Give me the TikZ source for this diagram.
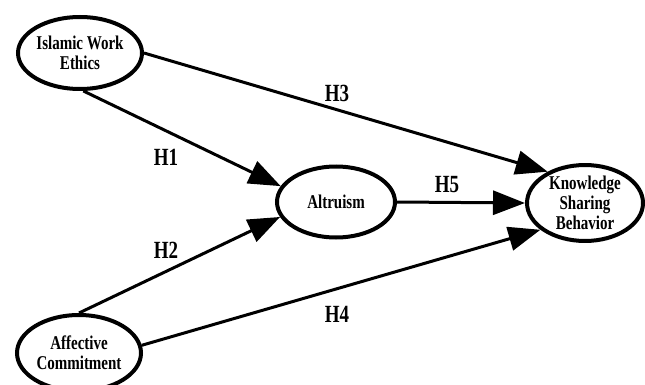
\documentclass[tikz,border=0pt]{standalone}
\usepackage{fontspec}
\usepackage{graphicx}
\setmainfont{Liberation Serif}
\usetikzlibrary{shapes.geometric,arrows.meta}
\newcommand{\vtxt}[1]{\scalebox{1}[1.3]{#1}}
\tikzset{
  var/.style={ellipse, draw, line width=4pt, inner sep=0pt, align=center,
    font=\fontsize{15}{20}\selectfont\bfseries},
  link/.style={line width=3pt, -{Triangle[length=32pt,width=24pt]}},
  hyp/.style={font=\fontsize{19}{22}\selectfont\bfseries}
}
\begin{document}
\begin{tikzpicture}[x=1pt, y=-1pt]
   \useasboundingbox (0,0) rectangle (645,385);
   \node [var, minimum width=124pt, minimum height=72pt] (iwe) at (80,53) {\vtxt{Islamic Work}\\\vtxt{Ethics}};
   \node [var, minimum width=118pt, minimum height=71pt] (alt) at (336,202) {\vtxt{Altruism}};
   \node [var, minimum width=116pt, minimum height=66pt] (ksb) at (585,203) {\vtxt{Knowledge}\\\vtxt{Sharing}\\\vtxt{Behavior}};
   \node [var, minimum width=124pt, minimum height=76pt] (ac) at (79,353) {\vtxt{Affective}\\\vtxt{Commitment}};
   \draw [link] (iwe.-85) -- (alt.164);
   \draw [link] (iwe.east) -- (ksb.140);
   \draw [link] (alt.east) -- (ksb.west);
   \draw [link] (ac.north) -- (alt.195);
   \draw [link] (ac.7) -- (ksb.211);
   \node [hyp] (h1) at (166,157) {\vtxt{H1}};
   \node [hyp] (h2) at (166,250) {\vtxt{H2}};
   \node [hyp] (h3) at (337,93) {\vtxt{H3}};
   \node [hyp] (h4) at (337,314) {\vtxt{H4}};
   \node [hyp] (h5) at (447,185) {\vtxt{H5}};
\end{tikzpicture}
\end{document}
